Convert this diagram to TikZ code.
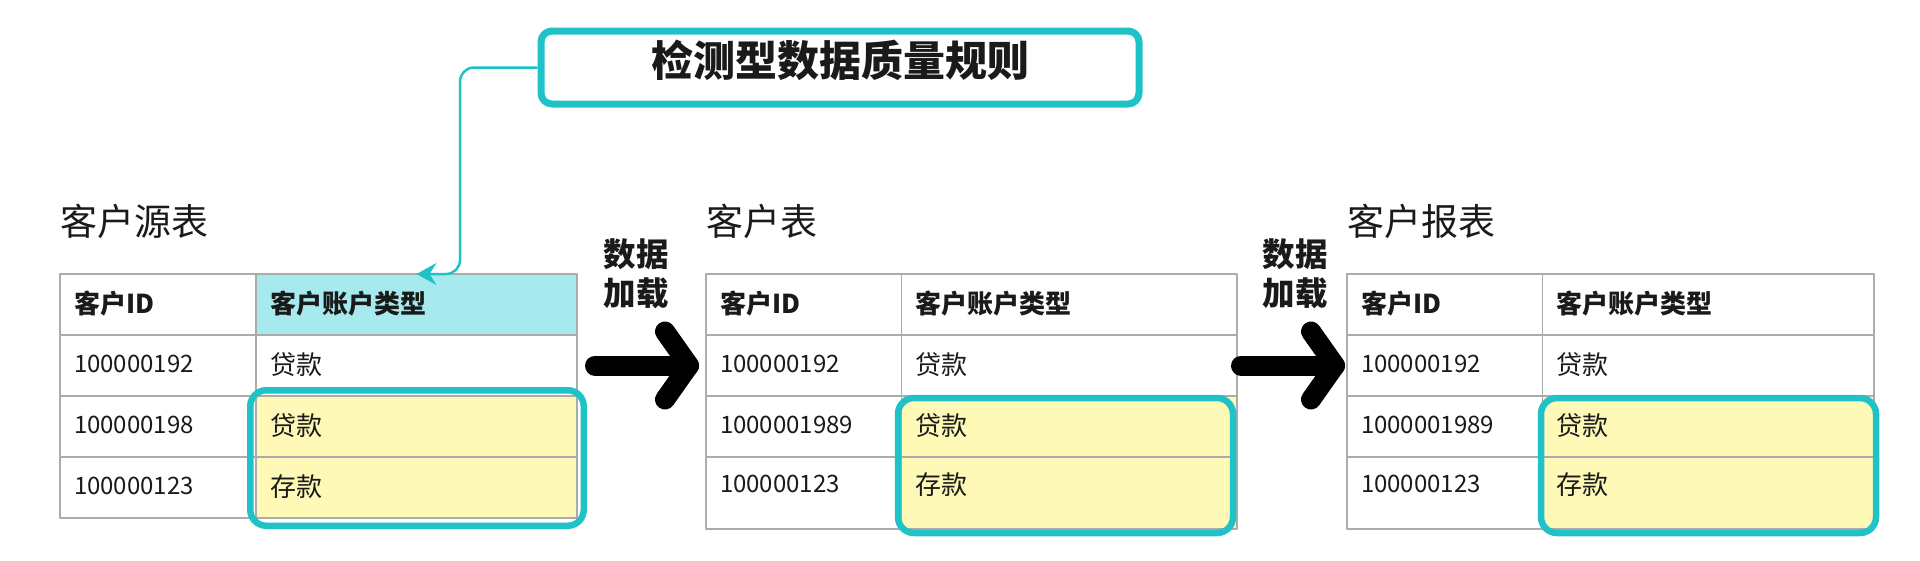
\documentclass[tikz,border=0pt]{standalone}
\usepackage{fontspec}
\setmainfont{Noto Sans CJK SC}
\usetikzlibrary{arrows.meta}
\definecolor{ruleteal}{HTML}{1FC3C7}
\definecolor{headcyan}{HTML}{A6EAED}
\definecolor{markyellow}{HTML}{FEF9B6}
\definecolor{gridgray}{HTML}{ABABAB}
\definecolor{inkblack}{HTML}{1A1A1A}
\begin{document}
\begin{tikzpicture}[x=1pt,y=-1pt,line join=round,
  cell/.style={draw=gridgray,line width=1.6pt,outer sep=0pt,anchor=north west,
    inner xsep=14pt,inner ysep=0pt,align=left,minimum height=61pt,text depth=4pt,
    text=inkblack,font=\fontsize{26}{30}\selectfont},
  headcell/.style={cell,font=\fontsize{26}{30}\selectfont\bfseries},
  idcell/.style={cell,font=\fontsize{24}{30}\selectfont},
  tabletitle/.style={anchor=west,inner sep=0pt,text=inkblack,font=\fontsize{37}{44}\selectfont},
  loadlabel/.style={align=center,inner sep=0pt,text=inkblack,font=\fontsize{32.5}{39}\selectfont\bfseries},
  loadline/.style={draw=black,line width=20pt,line cap=round,line join=round},
  markbox/.style={draw=ruleteal,line width=6.5pt,rounded corners=16pt},
  rulebox/.style={draw=ruleteal,line width=7pt,rounded corners=11pt,fill=white,
    minimum width=598pt,minimum height=73pt,text height=24pt,text depth=7pt,
    text=inkblack,font=\fontsize{42}{48}\selectfont\bfseries},
  rulelink/.style={draw=ruleteal,line width=2.5pt,rounded corners=14pt,
    -{Stealth[length=20pt,width=22pt,inset=7pt]}}]
  \useasboundingbox (0,0) rectangle (1920,560);
  % the three tables
  \foreach \t/\x/\wa/\wb/\lh/\ld/\hf/\id/\title in
    {src/60/168/293/61/4pt/headcyan/100000198/客户源表,
     cus/706/167.5/307.5/72/18pt/white/1000001989/客户表,
     rep/1347/167.5/303.5/72/18pt/white/1000001989/客户报表}{
    \node[tabletitle] (\t-title) at (\x,221) {\title};
    \node[headcell,text width=\wa pt] (\t-ha) at (\x,274) {客户ID};
    \node[headcell,text width=\wb pt,fill=\hf] (\t-hb) at (\t-ha.north east) {客户账户类型};
    \node[idcell,text width=\wa pt] (\t-1a) at (\t-ha.south west) {100000192};
    \node[cell,text width=\wb pt] (\t-1b) at (\t-1a.north east) {贷款};
    \node[idcell,text width=\wa pt] (\t-2a) at (\t-1a.south west) {\id};
    \node[cell,text width=\wb pt,fill=markyellow] (\t-2b) at (\t-2a.north east) {贷款};
    \node[idcell,text width=\wa pt,minimum height=\lh pt,text depth=\ld] (\t-3a) at (\t-2a.south west) {100000123};
    \node[cell,text width=\wb pt,minimum height=\lh pt,text depth=\ld,fill=markyellow] (\t-3b) at (\t-3a.north east) {存款};
  }
  % highlighted cells
  \draw[markbox] ([shift={(-5.75,-5.75)}]src-2b.north west) rectangle ([shift={(6.75,7.75)}]src-3b.south east);
  \draw[markbox] ([shift={(-3.5,2)}]cus-2b.north west) rectangle ([shift={(-4,4)}]cus-3b.south east);
  \draw[markbox] ([shift={(-1.5,2)}]rep-2b.north west) rectangle ([shift={(2,4)}]rep-3b.south east);
  % loading arrows
  \draw[loadline] ([xshift=18pt]src-1b.east) -- ([xshift=-17pt]cus-1a.west) coordinate (tip1);
  \draw[loadline] ([shift={(-24,-34)}]tip1) -- (tip1) -- ([shift={(-24,34)}]tip1);
  \draw[loadline] ([xshift=4pt]cus-1b.east) -- ([xshift=-12pt]rep-1a.west) coordinate (tip2);
  \draw[loadline] ([shift={(-24,-34)}]tip2) -- (tip2) -- ([shift={(-24,34)}]tip2);
  \node[loadlabel] (load1) at (636,273.5) {数据\\加载};
  \node[loadlabel] (load2) at (1295,273.5) {数据\\加载};
  % rule box
  \node[rulebox] (rule) at (840,67.5) {检测型数据质量规则};
  \draw[rulelink] (rule.west) -| ([xshift=43.5pt]src-hb.north) -- (src-hb.north);
\end{tikzpicture}
\end{document}
